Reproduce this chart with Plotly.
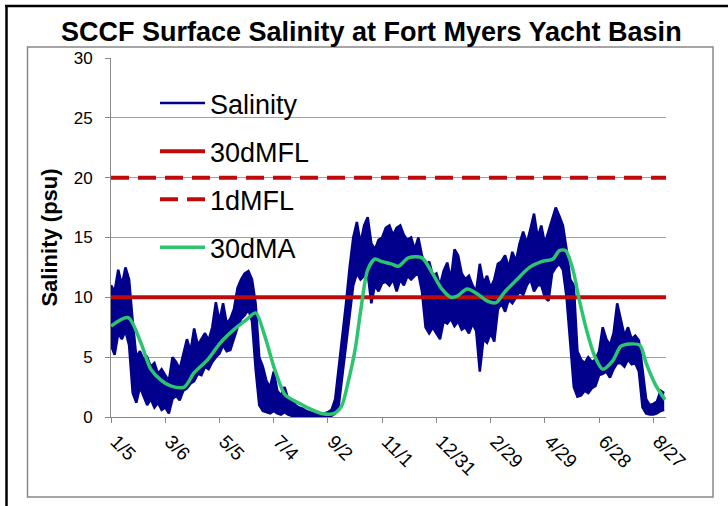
import pandas as pd
import plotly.graph_objects as go

START = "2011-01-05"
END = "2012-09-10"

# Surface salinity (psu), one high/low pair every 4 days starting at START
sal_high = [
    11.0, 10.5, 12.3, 11.0, 12.5, 11.5, 8.0, 5.0, 5.5, 4.8,
    5.0, 4.2, 4.5, 3.6, 4.0, 3.5, 3.0, 5.0, 4.6, 4.0,
    5.2, 6.5, 5.5, 7.4, 6.0, 6.5, 7.0, 6.4, 7.5, 9.6,
    8.0, 9.5, 7.8, 8.2, 9.0, 10.8, 11.5, 12.0, 12.2, 11.5,
    9.5, 5.0, 4.2, 3.0, 2.5, 3.8, 2.2, 1.8, 2.5, 1.5,
    1.4, 1.0, 0.8, 0.7, 0.5, 0.4, 0.3, 0.3, 0.3, 0.3,
    0.4, 0.6, 1.5, 4.0, 6.5, 9.5, 12.5, 15.0, 16.3, 14.5,
    16.0, 16.7, 14.5, 14.0, 14.8, 15.0, 15.8, 16.0, 15.2, 15.8,
    16.0, 15.2, 14.8, 15.0, 14.0, 15.0, 13.5, 12.5, 13.0, 11.8,
    12.0, 11.0, 12.2, 12.9, 11.5, 14.0, 13.5, 12.0, 11.5, 11.8,
    11.0, 10.5, 12.8, 11.2, 11.8, 10.8, 11.5, 12.8, 13.0, 13.5,
    12.5, 13.8, 13.0, 14.5, 15.5, 14.5, 15.7, 17.0, 15.0, 16.0,
    14.5, 15.5, 16.5, 17.5, 16.8, 16.0, 14.0, 11.5, 11.0, 5.5,
    4.8, 4.5, 5.0, 4.6, 4.8, 5.5, 7.5, 6.5, 6.0, 7.0,
    9.5, 8.0, 6.8, 7.5, 6.5, 6.8, 6.4, 4.0, 1.5, 1.0,
    1.1, 1.3, 2.2, 2.0,
]
sal_low = [
    6.0, 5.2, 7.0, 6.5, 7.2, 6.0, 2.0, 1.2, 2.5, 1.8,
    1.0, 1.5, 0.8, 1.2, 0.6, 0.8, 0.3, 1.5, 1.8, 1.4,
    2.2, 2.4, 2.8, 3.0, 3.6, 3.5, 4.2, 4.0, 4.6, 5.0,
    5.3, 6.0, 5.5, 5.6, 6.5, 7.5, 8.2, 8.5, 9.0, 8.0,
    4.0, 1.0, 0.5, 0.4, 0.3, 0.5, 0.3, 0.2, 0.4, 0.2,
    0.1, 0.1, 0.1, 0.05, 0.05, 0.0, 0.0, 0.0, 0.0, 0.0,
    0.1, 0.1, 0.3, 1.0, 3.5, 6.0, 9.0, 11.0, 12.0, 11.5,
    11.8, 12.0, 9.5, 11.0, 10.5, 11.2, 11.3, 11.0, 11.5, 10.5,
    11.5, 11.0, 11.8, 11.5, 11.8, 12.0, 10.5, 7.5, 7.0, 7.5,
    7.0, 6.5, 8.0, 7.8, 8.2, 7.6, 8.0, 7.3, 7.5, 7.0,
    7.8, 7.2, 3.8, 6.5, 6.2, 7.0, 6.3, 9.0, 9.5, 8.8,
    9.8, 9.5, 10.0, 10.5, 10.2, 11.0, 11.5, 10.5, 11.0, 11.0,
    10.0, 9.7, 12.0, 12.5, 12.8, 12.3, 10.0, 6.2, 2.5, 1.7,
    1.8, 2.2, 2.0, 2.4, 2.6, 3.5, 3.6, 3.8, 3.3, 4.0,
    4.5, 4.5, 4.2, 4.8, 4.4, 4.5, 3.8, 0.8, 0.3, 0.2,
    0.2, 0.3, 0.5, 0.6,
]

# 30-day moving average: day offset from START and value (psu)
ma_day = [
    0, 19, 33, 44, 55, 66, 81, 92, 107, 121,
    136, 151, 160, 170, 181, 192, 197, 207, 218, 233,
    247, 255, 262, 270, 277, 284, 292, 299, 310, 318,
    329, 344, 355, 366, 376, 383, 394, 405, 416, 426,
    435, 448, 463, 477, 489, 496, 503, 511, 518, 526,
    535, 544, 555, 564, 574, 585, 592, 603, 613,
]
ma_val = [
    7.6, 8.3, 6.2, 4.0, 3.1, 2.6, 2.5, 3.7, 4.8, 6.2,
    7.3, 8.2, 8.7, 6.8, 4.0, 1.9, 1.6, 1.2, 0.75, 0.3,
    0.3, 0.9, 2.8, 5.6, 9.3, 12.3, 13.2, 13.0, 12.8, 12.6,
    13.3, 13.3, 12.1, 10.7, 10.0, 10.1, 10.7, 10.3, 9.7, 9.55,
    10.4, 11.4, 12.5, 13.0, 13.2, 13.9, 13.9, 12.3, 9.8, 7.3,
    5.1, 4.0, 4.7, 5.9, 6.1, 6.0, 4.5, 2.6, 1.45,
]

# Minimum flow limits (psu)
mfl_30d = 10
mfl_1d = 20

tick_labels = ["1/5", "3/6", "5/5", "7/4", "9/2", "11/1",
               "12/31", "2/29", "4/29", "6/28", "8/27"]

NAVY = "#00008C"
RED = "#BE0A0A"
GREEN = "#2CC46E"
GRAY = "#A0A0A0"

sal_dates = pd.date_range(START, periods=len(sal_high), freq="4D")
ma_dates = pd.Timestamp(START) + pd.to_timedelta(ma_day, unit="D")
tick_dates = pd.date_range(START, periods=len(tick_labels), freq="60D")
span = [pd.Timestamp(START), pd.Timestamp(END)]

fig = go.Figure()

fig.add_trace(go.Scatter(
    x=sal_dates, y=sal_low, mode="lines", name="Salinity",
    legendgroup="sal", line=dict(color=NAVY, width=2.5),
))
fig.add_trace(go.Scatter(
    x=sal_dates, y=sal_high, mode="lines", showlegend=False,
    legendgroup="sal", fill="tonexty", fillcolor=NAVY,
    line=dict(color=NAVY, width=2.5),
))
fig.add_trace(go.Scatter(
    x=span, y=[mfl_30d, mfl_30d], mode="lines", name="30dMFL",
    legendgroup="m30", line=dict(color=RED, width=4),
))
fig.add_trace(go.Scatter(
    x=span, y=[mfl_1d, mfl_1d], mode="lines", name="1dMFL",
    legendgroup="m1", line=dict(color=RED, width=4, dash="18px,9px"),
))
fig.add_trace(go.Scatter(
    x=ma_dates, y=ma_val, mode="lines", name="30dMA",
    legendgroup="ma", line=dict(color=GREEN, width=3.5, shape="spline", smoothing=0.8),
))

# Outer frame and chart-area border, positioned in pixels from the plot origin
def px_rect(x0, y0, x1, y1, **kw):
    return dict(type="rect", xref="paper", yref="paper", xanchor=0, yanchor=0,
                xsizemode="pixel", ysizemode="pixel",
                x0=x0 - 111, x1=x1 - 111, y0=417 - y0, y1=417 - y1, **kw)

def px_line(x0, y0, x1, y1, **kw):
    return dict(type="line", xref="paper", yref="paper", xanchor=0, yanchor=0,
                xsizemode="pixel", ysizemode="pixel",
                x0=x0 - 111, x1=x1 - 111, y0=417 - y0, y1=417 - y1, **kw)

fig.update_layout(
    width=728, height=506,
    margin=dict(l=111, r=62, t=58, b=89),
    paper_bgcolor="white", plot_bgcolor="white",
    font=dict(family="Arial, Liberation Sans, sans-serif", color="black"),
    title=dict(
        text="<b>SCCF Surface Salinity at Fort Myers Yacht Basin</b>",
        font=dict(size=27, color="black"),
        xref="container", yref="container", x=0.51, y=1 - 32 / 506,
        xanchor="center", yanchor="middle",
    ),
    showlegend=True,
    legend=dict(
        x=(155 - 111) / 555, y=(417 - 79) / 359, xanchor="left", yanchor="top",
        bgcolor="rgba(0,0,0,0)", font=dict(size=27),
        itemwidth=45, tracegroupgap=10, traceorder="grouped",
    ),
    shapes=[
        px_rect(27.5, 47, 713, 497, line=dict(color="#888888", width=1.5), layer="below"),
        px_line(5, 6, 728, 6, line=dict(color="black", width=2.5)),
        px_line(6.5, 5, 6.5, 506, line=dict(color="black", width=2.5)),
    ],
)

fig.update_xaxes(
    type="date", range=span,
    tickmode="array", tickvals=tick_dates, ticktext=tick_labels,
    tickangle=45, tickfont=dict(size=19), ticklabelshift=5,
    ticks="outside", ticklen=5, tickcolor="#888888",
    showline=True, linecolor="#888888", linewidth=1,
    showgrid=False, zeroline=False,
)
fig.update_yaxes(
    range=[0, 30], dtick=5, tickfont=dict(size=17),
    ticks="outside", ticklen=5, tickcolor="#888888", ticklabelstandoff=9,
    showline=True, linecolor="#888888", linewidth=1,
    showgrid=True, gridcolor=GRAY, gridwidth=1, zeroline=False,
    title=dict(text="<b>Salinity (psu)</b>", font=dict(size=22), standoff=9),
)

fig.write_html("out.html")
